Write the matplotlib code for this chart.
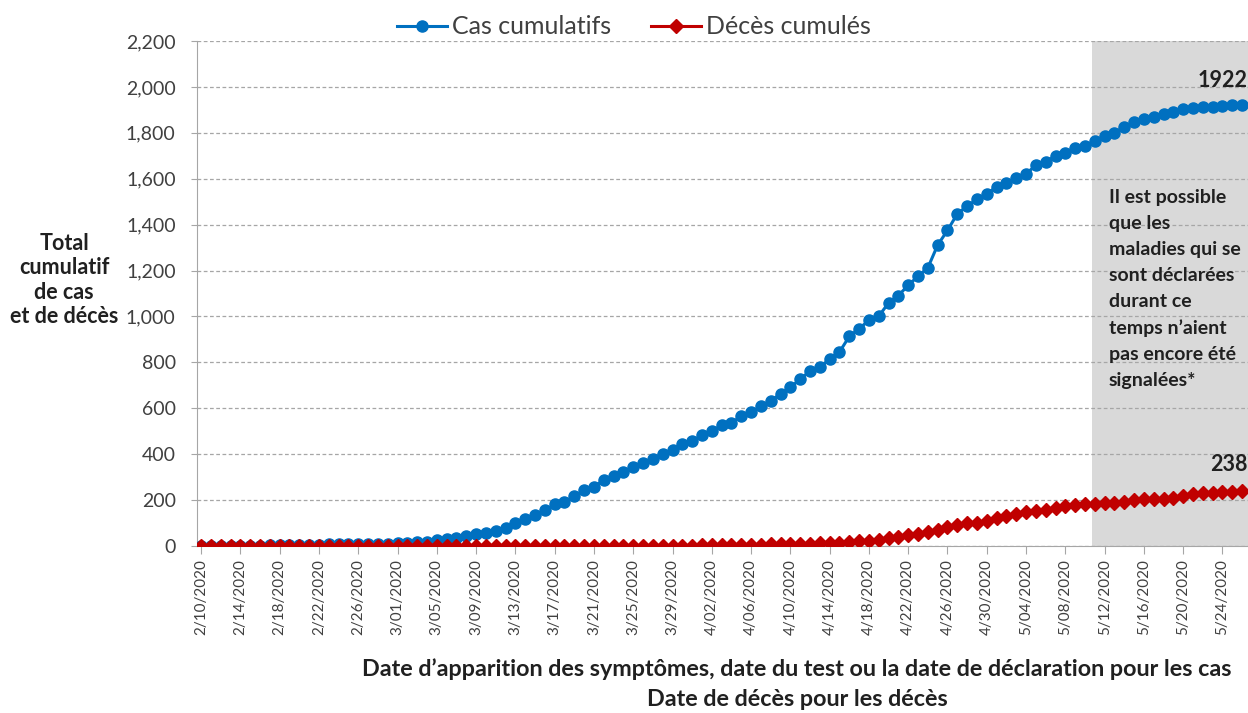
import numpy as np
import pandas as pd
import matplotlib
matplotlib.use('Agg')
import matplotlib.pyplot as plt
from matplotlib.ticker import FuncFormatter

plt.rcParams['font.family'] = ['Lato', 'DejaVu Sans']

# 日付 (2/10/2020 から 1日ごと)
start_date = "2020-02-10"

# 累積症例数
cases = [1, 1, 1, 2, 2, 2, 2, 3, 3, 3,
         3, 4, 6, 7, 7, 8, 8, 9, 9, 10,
         11, 14, 16, 19, 25, 30, 34, 43, 51, 56,
         67, 78, 99, 116, 135, 155, 181, 191, 217, 242,
         258, 287, 304, 322, 344, 362, 381, 402, 419, 444,
         456, 484, 502, 525, 535, 567, 583, 608, 633, 662,
         691, 727, 762, 778, 815, 845, 913, 947, 983, 1001,
         1059, 1091, 1136, 1175, 1212, 1311, 1375, 1447, 1481, 1510,
         1535, 1564, 1580, 1603, 1622, 1658, 1674, 1699, 1713, 1735,
         1743, 1764, 1786, 1801, 1825, 1847, 1859, 1870, 1881, 1892,
         1905, 1910, 1913, 1914, 1917, 1920, 1922]

# 累積死亡数
deaths = [0] * 47 + [1, 1, 2, 2,
                     3, 3, 4, 5, 5, 6, 6, 7, 7, 7,
                     8, 10, 12, 15, 15, 18, 21, 21, 25, 33,
                     40, 47, 52, 62, 70, 84, 92, 99, 102, 107,
                     121, 132, 139, 148, 154, 158, 166, 173, 178, 182,
                     184, 186, 188, 192, 200, 203, 204, 206, 210, 218,
                     228, 229, 232, 236, 237, 238]

# 未報告の可能性がある期間の開始日
shade_start = "2020-05-11"

legend_labels = ['Cas cumulatifs', 'Décès cumulés']
y_label = "Total\ncumulatif\nde cas\net de décès"
x_label = ("Date d\u2019apparition des symptômes, date du test ou la date de déclaration pour les cas\n"
           "Date de décès pour les décès")
note = ("Il est possible\nque les\nmaladies qui se\nsont déclarées\ndurant ce\n"
        "temps n\u2019aient\npas encore été\nsignalées*")

dates = pd.date_range(start_date, periods=len(cases), freq='D')
x = np.arange(len(dates))
shade_x = (pd.Timestamp(shade_start) - dates[0]).days

blue = '#0070C0'
red = '#C00000'

fig = plt.figure(figsize=(12.48, 7.13), dpi=100)
ax = fig.add_axes([0.158, 0.2342, 0.842, 0.7083])

ax.axvspan(shade_x - 0.3, len(x) + 1, color='#D9D9D9', zorder=0, lw=0)

ax.plot(x, cases, color=blue, lw=2.2, marker='o', markersize=8, label=legend_labels[0], zorder=3)
ax.plot(x, deaths, color=red, lw=2.2, marker='D', markersize=7, label=legend_labels[1], zorder=3)

ax.set_xlim(-0.4, len(x) - 0.4)
ax.set_ylim(0, 2200)
ax.set_yticks(np.arange(0, 2201, 200))
ax.yaxis.set_major_formatter(FuncFormatter(lambda v, p: f"{int(v):,}"))
ax.grid(axis='y', color='#A6A6A6', ls=(0, (3, 2)), lw=0.9, zorder=1)
ax.set_axisbelow(True)

tick_idx = x[::4]
ax.set_xticks(tick_idx)
ax.set_xticklabels([f"{d.month}/{d.day:02d}/{d.year}" for d in dates[::4]],
                   rotation=90, fontsize=11, color='#404040')
ax.tick_params(axis='y', labelsize=14, colors='#404040', length=4.5, pad=11, color='#A6A6A6')
ax.tick_params(axis='x', length=6, color='#A6A6A6')

for s in ['top', 'right']:
    ax.spines[s].set_visible(False)
ax.spines['left'].set_color('#A6A6A6')
ax.spines['bottom'].set_color('#A6A6A6')

# 最終値のラベル
ax.annotate(str(cases[-1]), (x[-1], cases[-1]), xytext=(4, 10), textcoords='offset points',
            ha='right', va='bottom', fontsize=15.5, fontweight='bold', color='#202020')
ax.annotate(str(deaths[-1]), (x[-1], deaths[-1]), xytext=(4, 12), textcoords='offset points',
            ha='right', va='bottom', fontsize=15.5, fontweight='bold', color='#202020')

ax.text(shade_x + 1.4, 1555, note, ha='left', va='top', fontsize=14,
        fontweight='bold', color='#202020', linespacing=1.64)

fig.text(64 / 1248, 1 - 280 / 713, y_label, ha='center', va='center',
         fontsize=15.5, fontweight='bold', color='#202020', linespacing=1.2)
fig.text(797 / 1248, 1 - 684 / 713, x_label, ha='center', va='center',
         fontsize=16.8, fontweight='bold', color='#202020', linespacing=1.55)

fig.legend(loc='upper center', bbox_to_anchor=(0.508, 1.01), ncol=2, frameon=False,
           fontsize=18, handlelength=2.0, columnspacing=1.6, handletextpad=0.2,
           labelcolor='#404040')

plt.savefig('out.png', dpi=100)
plt.close()
